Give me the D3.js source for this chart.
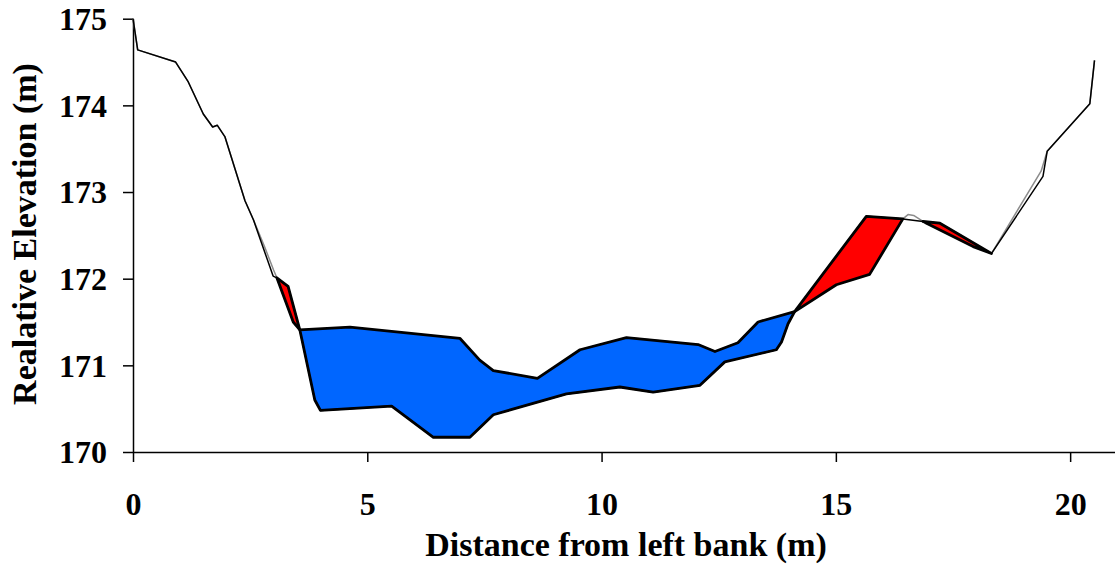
<!DOCTYPE html>
<html>
<head>
<meta charset="utf-8">
<script src="https://cdn.jsdelivr.net/npm/d3@7"></script>
<style>
  body { margin: 0; background: #fff; }
  text { font-family: "Liberation Serif", "Times New Roman", serif; font-weight: bold; fill: #000; }
</style>
</head>
<body>
<div id="chart"></div>
<script>
var width = 1115,
    height = 567;

// cross-section before the event (thin grey line)
var preProfile = [
  [0, 175.0], [0.1, 174.64], [0.91, 174.5], [1.18, 174.27], [1.5, 173.9], [1.7, 173.75],
  [1.8, 173.77], [1.96, 173.64], [2.39, 172.9], [2.57, 172.68], [2.8, 172.38], [3.0, 172.1],
  [3.07, 172.01], [3.42, 171.5], [3.56, 171.41], [4.63, 171.44], [6.98, 171.31], [7.4, 171.06],
  [7.69, 170.94], [8.63, 170.85], [9.54, 171.18], [10.53, 171.32], [12.06, 171.24], [12.42, 171.16],
  [12.91, 171.26], [13.34, 171.5], [14.12, 171.62], [15.01, 171.93], [15.72, 172.05], [16.43, 172.69],
  [16.54, 172.74], [16.66, 172.73], [16.86, 172.66], [17.93, 172.37], [18.32, 172.29],
  [19.38, 173.24], [19.51, 173.47], [20.42, 174.02], [20.52, 174.52]
];

// cross-section after the event (thin black line)
var postProfile = [
  [0, 175.0], [0.1, 174.64], [0.91, 174.5], [1.18, 174.27], [1.5, 173.9], [1.7, 173.75],
  [1.8, 173.77], [1.96, 173.64], [2.39, 172.9], [2.57, 172.68], [2.99, 172.03], [3.07, 172.01],
  [3.31, 171.91], [3.56, 171.41], [3.88, 170.6], [4.0, 170.48], [5.52, 170.53], [6.41, 170.17],
  [7.19, 170.17], [7.69, 170.43], [9.25, 170.67], [10.39, 170.75], [11.1, 170.69], [12.1, 170.77],
  [12.63, 171.04], [13.73, 171.18], [13.84, 171.27], [13.98, 171.48], [14.12, 171.62],
  [15.65, 172.72], [16.43, 172.69], [16.86, 172.66], [17.22, 172.64], [18.32, 172.29],
  [19.42, 173.18], [19.51, 173.47], [20.42, 174.02], [20.52, 174.52]
];

// stretches where the bed changed: [from, to, kind]
var zones = [
  [3.07, 3.56, "deposition"],
  [3.56, 14.12, "erosion"],
  [14.12, 16.43, "deposition"],
  [16.86, 18.32, "deposition"]
];

var xTicks = [0, 5, 10, 15, 20];
var yTicks = [170, 171, 172, 173, 174, 175];

var zoneColor = { erosion: "#0066ff", deposition: "#ff0000" };

var svg = d3.select("#chart").append("svg")
    .attr("width", width)
    .attr("height", height);

var x = d3.scaleLinear().domain([0, 21]).range([133, 1117]);
var y = d3.scaleLinear().domain([170, 175]).range([452, 18.7]);

var line = d3.line()
    .x(function(d) { return x(d[0]); })
    .y(function(d) { return y(d[1]); });

// axes
var xAxis = svg.append("g")
    .attr("transform", "translate(0," + y(170) + ")")
    .call(d3.axisBottom(x).tickValues(xTicks).tickFormat(d3.format("d"))
      .tickSize(10).tickPadding(30).tickSizeOuter(0));

var yAxis = svg.append("g")
    .attr("transform", "translate(" + x(0) + ",0)")
    .call(d3.axisLeft(y).tickValues(yTicks).tickFormat(d3.format("d"))
      .tickSize(10).tickPadding(16).tickSizeOuter(0));

[xAxis, yAxis].forEach(function(g) {
  g.select(".domain").attr("stroke", "#000").attr("stroke-width", 1.5);
  g.selectAll(".tick line").attr("stroke", "#000").attr("stroke-width", 1.5);
  g.selectAll("text").style("font-size", "32px").attr("fill", "#000");
});
yAxis.selectAll("text").attr("dy", "0.34em");

// profiles
svg.append("path")
    .datum(preProfile)
    .attr("d", line)
    .attr("fill", "none")
    .attr("stroke", "#8c8c8c")
    .attr("stroke-width", 1.5)
    .attr("stroke-linejoin", "round");

// filled change polygons, built from the two profiles between zone ends
zones.forEach(function(z) {
  var top = preProfile.filter(function(p) { return p[0] >= z[0] && p[0] <= z[1]; });
  var bot = postProfile.filter(function(p) { return p[0] >= z[0] && p[0] <= z[1]; }).reverse();
  svg.append("path")
      .datum(top.concat(bot))
      .attr("d", function(d) { return line(d) + "Z"; })
      .attr("fill", zoneColor[z[2]])
      .attr("stroke", "#000")
      .attr("stroke-width", 2.8)
      .attr("stroke-linejoin", "round");
});

svg.append("path")
    .datum(postProfile)
    .attr("d", line)
    .attr("fill", "none")
    .attr("stroke", "#000")
    .attr("stroke-width", 1.5)
    .attr("stroke-linejoin", "round");

// titles
svg.append("text")
    .attr("x", 626)
    .attr("y", 556)
    .attr("text-anchor", "middle")
    .style("font-size", "34px")
    .text("Distance from left bank (m)");

svg.append("text")
    .attr("transform", "translate(36,234) rotate(-90)")
    .attr("text-anchor", "middle")
    .style("font-size", "34px")
    .text("Realative Elevation (m)");
</script>
</body>
</html>
